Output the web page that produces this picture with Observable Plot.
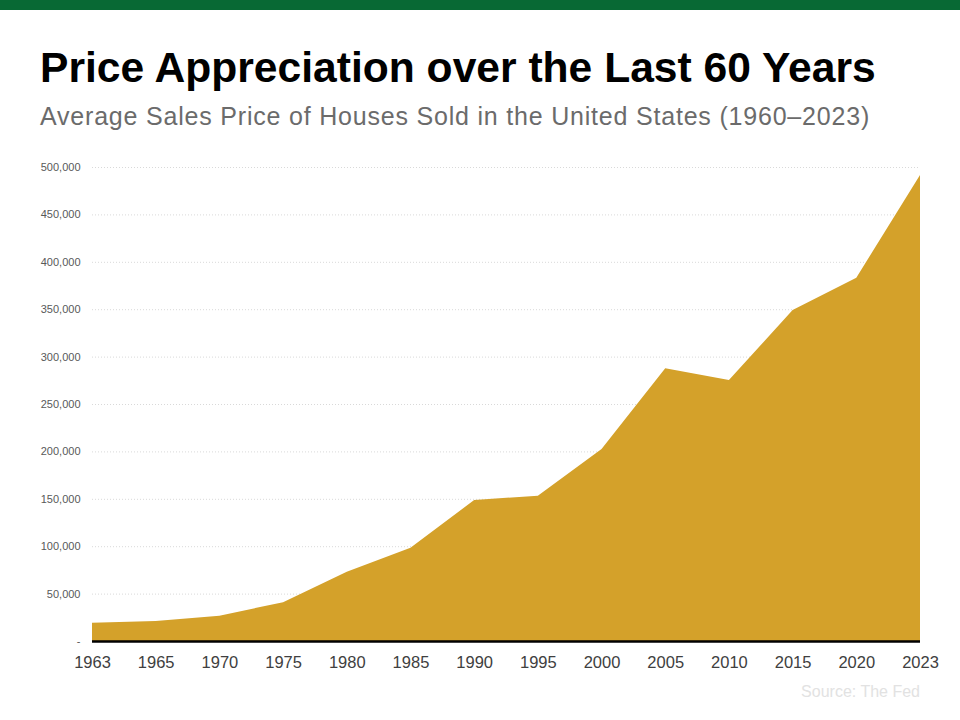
<!DOCTYPE html>
<html>
<head>
<meta charset="utf-8">
<script src="https://cdn.jsdelivr.net/npm/d3@7"></script>
<script src="https://cdn.jsdelivr.net/npm/@observablehq/plot@0.6"></script>
<style>
  html, body { margin: 0; padding: 0; background: #fff; width: 960px; height: 720px; overflow: hidden; position: relative; font-family: "Liberation Sans", Arial, sans-serif; }
  #bar { position: absolute; left: 0; top: 0; width: 960px; height: 10px; background: #086934; }
  #title { position: absolute; left: 40px; top: 41px; font-size: 42.6px; font-weight: bold; color: #000; line-height: 52px; white-space: nowrap; }
  #subtitle { position: absolute; left: 40px; top: 101px; font-size: 25px; letter-spacing: 0.8px; color: #6b6b6b; line-height: 30px; white-space: nowrap; }
  #chart { position: absolute; left: 0; top: 140px; }
  #source { position: absolute; right: 40px; top: 683px; font-size: 16px; color: #e2e2e2; white-space: nowrap; }
</style>
</head>
<body>
<div id="bar"></div>
<div id="title">Price Appreciation over the Last 60 Years</div>
<div id="subtitle">Average Sales Price of Houses Sold in the United States (1960–2023)</div>
<div id="chart"></div>
<div id="source">Source: The Fed</div>
<script>
const years = ["1963", "1965", "1970", "1975", "1980", "1985", "1990", "1995", "2000", "2005", "2010", "2015", "2020", "2023"];
const prices = [19300, 21100, 26600, 41000, 73000, 98400, 148700, 153300, 202500, 287700, 275300, 349200, 383200, 491600];
const yTicks = [0, 50000, 100000, 150000, 200000, 250000, 300000, 350000, 400000, 450000, 500000];

const data = years.map((y, i) => ({year: y, price: prices[i]}));
const fmt = d3.format(",");

const chart = Plot.plot({
  width: 960,
  height: 540,
  marginLeft: 92,
  marginRight: 40,
  marginTop: 27,
  marginBottom: 39,
  style: { fontFamily: "'Liberation Sans', Arial, sans-serif", background: "transparent" },
  x: { type: "point", domain: years, padding: 0, round: false },
  y: { domain: [0, 500000], ticks: yTicks },
  marks: [
    Plot.ruleY(yTicks.filter(d => d > 0), { stroke: "#d9d9d9", strokeWidth: 1, strokeDasharray: "1,2" }),
    Plot.areaY(data, { x: "year", y: "price", fill: "#D4A12A", curve: "linear" }),
    Plot.ruleY([0], { stroke: "#000", strokeWidth: 2.5 }),
    Plot.axisY({ ticks: yTicks, tickSize: 0, tickPadding: 12, tickFormat: d => d === 0 ? "-" : fmt(d), fontSize: 11, color: "#595959", label: null }),
    Plot.axisX({ tickSize: 0, tickPadding: 15, fontSize: 16.5, color: "#404040", label: null })
  ]
});
document.getElementById("chart").appendChild(chart);
</script>
</body>
</html>
